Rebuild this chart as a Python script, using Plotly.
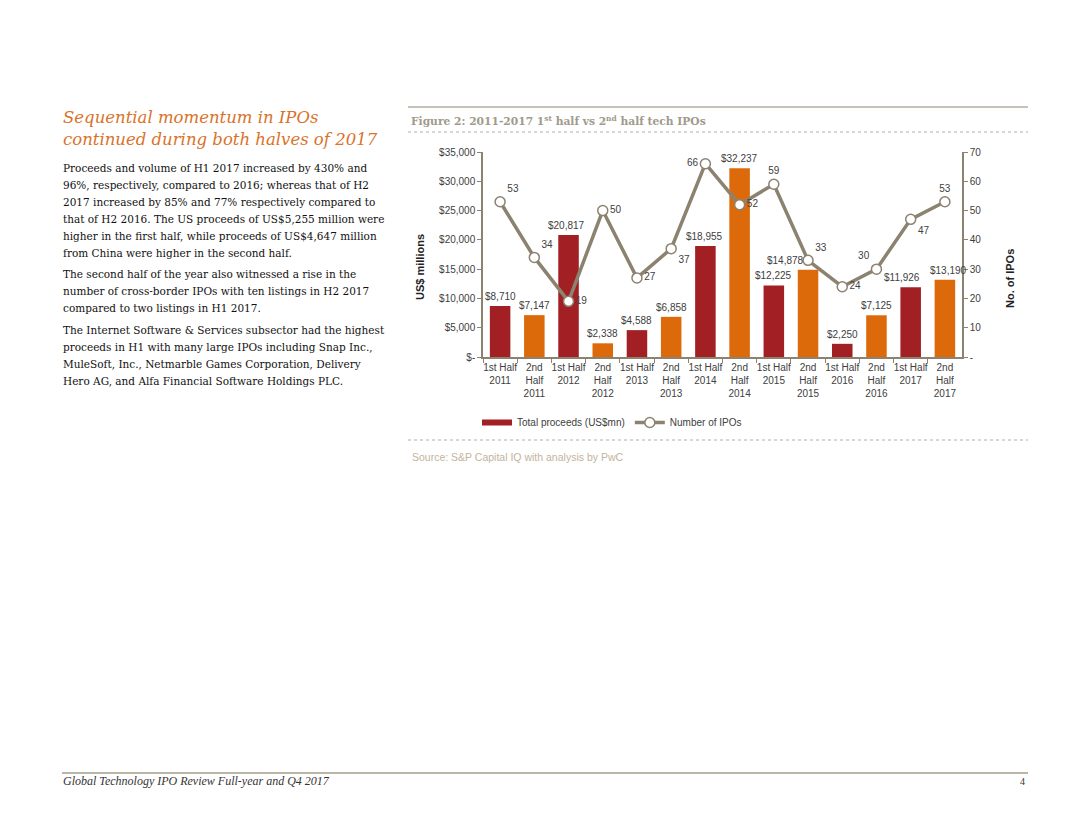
import plotly.graph_objects as go

categories = ["1st Half<br>2011", "2nd<br>Half<br>2011", "1st Half<br>2012", "2nd<br>Half<br>2012",
              "1st Half<br>2013", "2nd<br>Half<br>2013", "1st Half<br>2014", "2nd<br>Half<br>2014",
              "1st Half<br>2015", "2nd<br>Half<br>2015", "1st Half<br>2016", "2nd<br>Half<br>2016",
              "1st Half<br>2017", "2nd<br>Half<br>2017"]
proceeds = [8710, 7147, 20817, 2338, 4588, 6858, 18955, 32237, 12225, 14878, 2250, 7125, 11926, 13190]
num_ipos = [53, 34, 19, 50, 27, 37, 66, 52, 59, 33, 24, 30, 47, 53]
left_ticks = [0, 5000, 10000, 15000, 20000, 25000, 30000, 35000]
left_ticktext = ["$-", "$5,000", "$10,000", "$15,000", "$20,000", "$25,000", "$30,000", "$35,000"]
right_ticks = [0, 10, 20, 30, 40, 50, 60, 70]
right_ticktext = ["-", "10", "20", "30", "40", "50", "60", "70"]

RED = "#A21F24"
ORANGE = "#DC6A0A"
KHAKI = "#8C8270"
TXT = "#404040"

# page body has an 8px margin; figure sized to fit the 1080x835 window
OX, OY = 8, 8
W, H = 1064, 819
def PX(x):
    return (x - OX) / W
def PY(y):
    return 1 - (y - OY) / H

bar_colors = [RED if i % 2 == 0 else ORANGE for i in range(len(proceeds))]
bar_label_shift = [0, 0, -2, 0, 0, 0, -1, 0, 0, -23, 0, 0, -9, 4]
line_pos = ["top right", "top right", "middle right", "middle right", "middle right", "bottom right",
            "middle left", "middle right", "top center", "top right", "middle right", "top left",
            "bottom right", "top center"]

fig = go.Figure()
fig.add_trace(go.Bar(
    x=categories, y=proceeds, name="Total proceeds (US$mn)", showlegend=False,
    marker=dict(color=bar_colors, line=dict(width=0)),
    width=0.6, yaxis="y",
))
# legend entry for the bars (wide swatch like the reference)
fig.add_trace(go.Scatter(
    x=[None], y=[None], name="Total proceeds (US$mn)", mode="lines",
    line=dict(color=RED, width=6), yaxis="y",
))
fig.add_trace(go.Scatter(
    x=categories, y=num_ipos, name="Number of IPOs", mode="lines+markers+text",
    line=dict(color=KHAKI, width=3.5),
    marker=dict(size=10, color="white", line=dict(color=KHAKI, width=1.5)),
    text=[str(v) for v in num_ipos], textposition=line_pos,
    textfont=dict(family="Liberation Sans, Arial", size=10, color=TXT),
    cliponaxis=False, yaxis="y2",
))

fig.update_layout(
    width=W, height=H, autosize=False,
    margin=dict(l=0, r=0, t=0, b=0),
    paper_bgcolor="white", plot_bgcolor="white",
    showlegend=True,
    legend=dict(orientation="h", x=PX(477), y=PY(408), xanchor="left", yanchor="top",
                font=dict(family="Liberation Sans, Arial", size=10, color=TXT),
                itemwidth=30, traceorder="normal", bgcolor="rgba(0,0,0,0)"),
    xaxis=dict(domain=[PX(483), PX(962)], range=[-0.5, len(categories) - 0.5],
               showline=True, linecolor=KHAKI, linewidth=1.5,
               ticks="outside", ticklen=4, tickcolor=KHAKI, tickson="boundaries",
               tickfont=dict(family="Liberation Sans, Arial", size=10, color=TXT),
               showgrid=False, zeroline=False, anchor="y", automargin=False, tickangle=0),
    yaxis=dict(domain=[PY(357), PY(152)], range=[0, 35000], tickvals=left_ticks,
               ticktext=left_ticktext, showline=True, linecolor=KHAKI, linewidth=1.5,
               ticks="outside", ticklen=4, tickcolor=KHAKI, showgrid=False, zeroline=False,
               tickfont=dict(family="Liberation Sans, Arial", size=10, color=TXT),
               automargin=False, anchor="x"),
    yaxis2=dict(overlaying="y", side="right", range=[0, 70], tickvals=right_ticks,
                ticktext=right_ticktext, showline=True, linecolor=KHAKI, linewidth=1.5,
                ticks="outside", ticklen=4, tickcolor=KHAKI, showgrid=False, zeroline=False,
                tickfont=dict(family="Liberation Sans, Arial", size=10, color=TXT),
                automargin=False, anchor="x"),
)

SERIF = "DejaVu Serif"
ann = []
# bar value labels, placed from the data through the axes
for c, v, s in zip(categories, proceeds, bar_label_shift):
    ann.append(dict(x=c, y=v, xref="x", yref="y", text=f"${v:,}", showarrow=False,
                    xanchor="center", yanchor="bottom", xshift=s, yshift=2,
                    font=dict(family="Liberation Sans, Arial", size=10, color=TXT)))

def A(x, y, text, size, color, family=SERIF, xanchor="left", yanchor="middle", angle=0):
    ann.append(dict(x=PX(x), y=PY(y), xref="paper", yref="paper", text=text, showarrow=False,
                    xanchor=xanchor, yanchor=yanchor, textangle=angle,
                    font=dict(family=family, size=size, color=color)))

# axis titles
A(420, 267, "<b>US$ millions</b>", 11, "#222", family="Liberation Sans, Arial", xanchor="center", angle=-90)
A(1010, 279, "<b>No. of IPOs</b>", 11, "#222", family="Liberation Sans, Arial", xanchor="center", angle=-90)

# figure title and source
A(409, 121, "<b>Figure 2: 2011-2017 1<sup>st</sup> half vs 2<sup>nd</sup> half tech IPOs</b>", 10.7, "#A09A8C")
A(410, 457, "Source: S&P Capital IQ with analysis by PwC", 10.5, "#C4B39C", family="Liberation Sans, Arial")

# left heading
A(61, 118, "<i>Sequential momentum in IPOs</i>", 16.5, "#D9732A")
A(61, 140, "<i>continued during both halves of 2017</i>", 16.5, "#D9732A")

body = [
    (168, "Proceeds and volume of H1 2017 increased by 430% and"),
    (185, "96%, respectively, compared to 2016; whereas that of H2"),
    (202, "2017 increased by 85% and 77% respectively compared to"),
    (219, "that of H2 2016. The US proceeds of US$5,255 million were"),
    (236, "higher in the first half, while proceeds of US$4,647 million"),
    (253, "from China were higher in the second half."),
    (274, "The second half of the year also witnessed a rise in the"),
    (291, "number of cross-border IPOs with ten listings in H2 2017"),
    (308, "compared to two listings in H1 2017."),
    (330, "The Internet Software & Services subsector had the highest"),
    (347, "proceeds in H1 with many large IPOs including Snap Inc.,"),
    (364, "MuleSoft, Inc., Netmarble Games Corporation, Delivery"),
    (381, "Hero AG, and Alfa Financial Software Holdings PLC."),
]
for y, t in body:
    A(61, y, t, 10.5, "#111111")

# footer
A(61, 781, "<i>Global Technology IPO Review Full-year and Q4 2017</i>", 12, "#333",
  family="Liberation Serif")
A(1027, 781, "4", 10, "#333", xanchor="right", family="Liberation Serif")

fig.update_layout(annotations=ann)

def hline(x0, x1, y, color, dash="solid", width=1):
    fig.add_shape(type="line", xref="paper", yref="paper", x0=PX(x0), x1=PX(x1),
                  y0=PY(y), y1=PY(y), line=dict(color=color, width=width, dash=dash))

hline(408, 1028, 107, "#B5AE9F", width=1.5)
hline(408, 1028, 132, "#B5AE9F", dash="dot", width=1)
hline(408, 1028, 440, "#B5AE9F", dash="dot", width=1)
hline(62, 1028, 773, "#A69E8C", width=1.5)

fig.write_html("out.html")
